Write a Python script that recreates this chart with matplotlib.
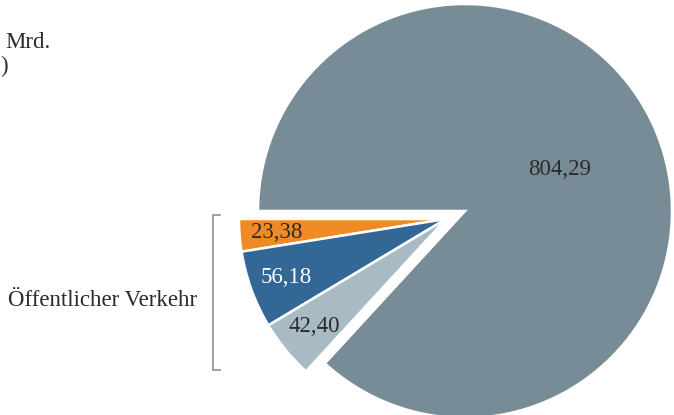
import matplotlib
matplotlib.use("Agg")
import matplotlib.pyplot as plt
import numpy as np

plt.rcParams["font.family"] = ["Liberation Serif", "DejaVu Serif"]

# values in Mrd. (order: counterclockwise from the 9 o'clock position)
categories = ["Sonstige A", "Sonstige B", "Sonstige C", "Übrige"]
values = [23.38, 56.18, 42.40, 804.29]
colors = ["#F08A24", "#336896", "#A8BAC3", "#788C97"]
label_colors = ["#2b2b2b", "white", "#2b2b2b", "#2b2b2b"]
group_label = "Öffentlicher Verkehr"

W, H = 674, 415
fig = plt.figure(figsize=(W / 100, H / 100), dpi=100)
ax = fig.add_axes([0, 0, 1, 1])

cx, cy, R = 465, 204, 207
shift = np.array([-19, -8])  # offset of the exploded group
fs = 16.5

labels = [f"{v:.2f}".replace(".", ",") for v in values]
wedges, texts = ax.pie(
    values,
    colors=colors,
    labels=labels,
    startangle=180,
    counterclock=True,
    center=(cx, cy),
    radius=R,
    wedgeprops=dict(edgecolor="white", linewidth=1.8),
    textprops=dict(fontsize=fs),
)

for i, (w, t) in enumerate(zip(wedges, texts)):
    mid = np.deg2rad((w.theta1 + w.theta2) / 2)
    if i < 3:
        c = np.array([cx, cy]) + shift
        w.set_center(tuple(c))
        dist = 0.82
    else:
        c = np.array([cx, cy])
        dist = 0.5
    t.set_position((c[0] + dist * R * np.cos(mid), c[1] + dist * R * np.sin(mid)))
    t.set_ha("center")
    t.set_va("center")
    t.set_color(label_colors[i])

# bracket for the grouped slices
bx, by0, by1 = 213, H - 215, H - 370
ax.plot([bx + 7, bx, bx, bx + 7], [by0, by0, by1, by1], color="#9a9a9a", lw=1.3,
        solid_joinstyle="miter")
ax.text(8, H - 300, group_label, fontsize=fs, ha="left", va="center", color="#2b2b2b")

ax.text(5, H - 42, "Mrd.", fontsize=fs, ha="left", va="center", color="#2b2b2b")
ax.text(0.5, H - 66, ")", fontsize=fs, ha="left", va="center", color="#2b2b2b")

ax.set_xlim(0, W)
ax.set_ylim(0, H)
ax.axis("off")

fig.savefig("out.png", dpi=100)
